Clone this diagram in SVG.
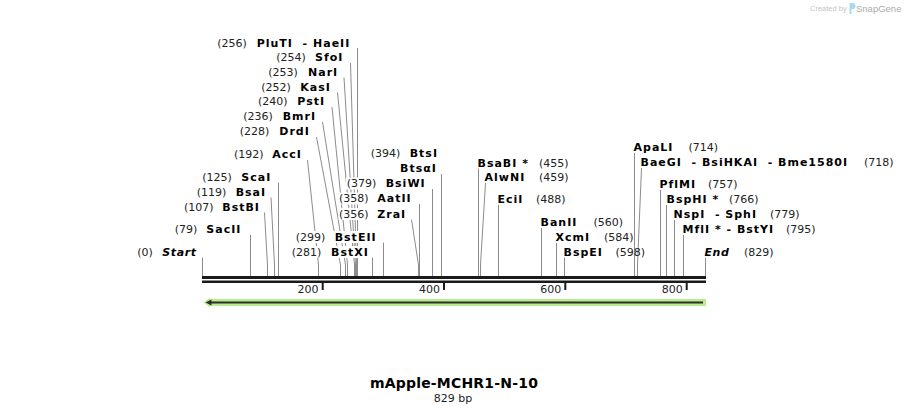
<svg xmlns="http://www.w3.org/2000/svg" width="908" height="415" viewBox="0 0 908 415">
<style>
.n{font-family:"DejaVu Sans",Verdana,sans-serif;font-size:11px;fill:#222}
.b{font-family:"DejaVu Sans",Verdana,sans-serif;font-size:11px;font-weight:bold;letter-spacing:1px;fill:#000}
.bi{font-family:"DejaVu Sans",Verdana,sans-serif;font-size:11px;font-weight:bold;font-style:italic;letter-spacing:0.6px;fill:#000}
.ln{fill:none;stroke:#8c8c8c;stroke-width:1}
.bg{fill:#fff}
.tk{fill:#1a1a1a}
</style>
<rect width="908" height="415" fill="#fff"/>

<g id="watermark">
<text x="810" y="11" font-family="Liberation Sans,Arial,sans-serif" font-size="7.5" fill="#c4c4c4">Created by</text>
<path d="M849.5,3 h3 a3,3 0 0 1 0,6 h-1 v5 h-2 z" fill="#a9d8f2"/>
<text x="856" y="11.5" font-family="Liberation Sans,Arial,sans-serif" font-size="9.5" fill="#ababab">SnapGene</text>
</g>

<g id="connectors">
<path class="ln" d="M357.5,276 V48"/>
<path class="ln" d="M356.5,276 V265 L350.5,63"/>
<path class="ln" d="M355.5,276 V265 L344,77.5"/>
<path class="ln" d="M354.5,276 V265 L337.5,92.5"/>
<path class="ln" d="M347.5,276 V265 L332,107"/>
<path class="ln" d="M345.5,276 V265 L322.5,122"/>
<path class="ln" d="M340.5,276 V265 L316.5,137"/>
<path class="ln" d="M318.5,276 V265 L307.5,160"/>
<path class="ln" d="M278.5,276 V182.5"/>
<path class="ln" d="M274.5,276 V265 L271,197.5"/>
<path class="ln" d="M267.5,276 V265 L264.5,212.5"/>
<path class="ln" d="M250.5,276 V235"/>
<path class="ln" d="M202.5,276 V257.5"/>
<path class="ln" d="M383.5,276 V242.5"/>
<path class="ln" d="M372.5,276 V257.5"/>
<path class="ln" d="M441.5,276 V174"/>
<path class="ln" d="M432.5,276 V189"/>
<path class="ln" d="M419.5,276 V204"/>
<path class="ln" d="M418.5,276 V265 L411.5,219.5"/>
<path class="ln" d="M478.5,276 V168.5"/>
<path class="ln" d="M480.5,276 V265 L485.5,183"/>
<path class="ln" d="M498.5,276 V205"/>
<path class="ln" d="M541.5,276 V228"/>
<path class="ln" d="M556.5,276 V243"/>
<path class="ln" d="M564.5,276 V257.5"/>
<path class="ln" d="M634.5,276 V153"/>
<path class="ln" d="M637.5,276 V265 L641.5,168"/>
<path class="ln" d="M660.5,276 V190"/>
<path class="ln" d="M666.5,276 V205"/>
<path class="ln" d="M674.5,276 V220"/>
<path class="ln" d="M683.5,276 V235"/>
<path class="ln" d="M705.5,276 V258"/>
</g>

<g id="ruler">
<rect class="tk" x="202" y="276" width="504" height="3"/>
<rect class="tk" x="202" y="280.5" width="504" height="2.5"/>
<rect class="tk" x="321.7" y="283" width="2" height="7"/>
<rect class="tk" x="443" y="283" width="2" height="7"/>
<rect class="tk" x="564.3" y="283" width="2" height="7"/>
<rect class="tk" x="685.7" y="283" width="2" height="7"/>
<text class="n" x="318.5" y="293" text-anchor="end">200</text>
<text class="n" x="440" y="293" text-anchor="end">400</text>
<text class="n" x="561.3" y="293" text-anchor="end">600</text>
<text class="n" x="682.7" y="293" text-anchor="end">800</text>
</g>

<g id="feature">
<path d="M203.5,302.5 L210,297.8 V299 H706 V306 H210 V307.2 Z" fill="#b9ec8c"/>
<path d="M209,302.5 H703" stroke="#2e2e2e" stroke-width="2"/>
<path d="M205.5,302.5 L211.5,299.5 V305.5 Z" fill="#2e2e2e"/>
</g>

<g id="site-PluTI-HaeII"><text class="n" x="217.3" y="46.5">(256)</text><text class="b" x="256.7" y="46.5" xml:space="preserve">PluTI  - HaeII</text></g>
<g id="site-SfoI"><text class="n" x="276.3" y="61">(254)</text><text class="b" x="315" y="61">SfoI</text></g>
<g id="site-NarI"><text class="n" x="268.3" y="75.5">(253)</text><text class="b" x="308" y="75.5">NarI</text></g>
<g id="site-KasI"><text class="n" x="261.3" y="90.5">(252)</text><text class="b" x="300.3" y="90.5">KasI</text></g>
<g id="site-PstI"><text class="n" x="258" y="105">(240)</text><text class="b" x="297.3" y="105">PstI</text></g>
<g id="site-BmrI"><text class="n" x="243.3" y="120">(236)</text><text class="b" x="282.7" y="120">BmrI</text></g>
<g id="site-DrdI"><text class="n" x="239.7" y="135">(228)</text><text class="b" x="279.3" y="135">DrdI</text></g>
<g id="site-AccI"><text class="n" x="234" y="158">(192)</text><text class="b" x="272.3" y="158">AccI</text></g>
<g id="site-ScaI"><text class="n" x="202.3" y="180.5">(125)</text><text class="b" x="241.3" y="180.5">ScaI</text></g>
<g id="site-BsaI"><text class="n" x="196.7" y="195.5">(119)</text><text class="b" x="235.7" y="195.5">BsaI</text></g>
<g id="site-BstBI"><text class="n" x="184" y="210.5">(107)</text><text class="b" x="222.3" y="210.5">BstBI</text></g>
<g id="site-SacII"><text class="n" x="174.7" y="233">(79)</text><text class="b" x="206.3" y="233">SacII</text></g>
<g id="site-Start"><text class="n" x="137.3" y="255.5">(0)</text><text class="bi" x="162.3" y="255.5">Start</text></g>
<g id="site-BstEII"><rect class="bg" x="295" y="231" width="84" height="12"/><text class="n" x="295.7" y="240.5">(299)</text><text class="b" x="334.7" y="240.5">BstEII</text></g>
<g id="site-BstXI"><rect class="bg" x="291" y="246" width="79" height="12"/><text class="n" x="291.7" y="255.5">(281)</text><text class="b" x="331" y="255.5">BstXI</text></g>
<g id="site-BtsI"><text class="n" x="370.7" y="157">(394)</text><text class="b" x="409.7" y="157">BtsI</text></g>
<g id="site-BtsaI"><text class="b" x="400" y="172">BtsαI</text></g>
<g id="site-BsiWI"><rect class="bg" x="346" y="177.5" width="81" height="12"/><text class="n" x="346.7" y="187">(379)</text><text class="b" x="385.7" y="187">BsiWI</text></g>
<g id="site-AatII"><rect class="bg" x="338.5" y="192.5" width="77" height="12"/><text class="n" x="339" y="202">(358)</text><text class="b" x="377.3" y="202">AatII</text></g>
<g id="site-ZraI"><rect class="bg" x="338.5" y="208" width="70" height="12"/><text class="n" x="339" y="217.5">(356)</text><text class="b" x="377.3" y="217.5">ZraI</text></g>

<g id="site-BsaBI"><text class="b" x="477.5" y="166.5">BsaBI *</text><text class="n" x="539" y="166.5">(455)</text></g>
<g id="site-AlwNI"><text class="b" x="484.5" y="181">AlwNI</text><text class="n" x="539" y="181">(459)</text></g>
<g id="site-EciI"><text class="b" x="497.5" y="203">EciI</text><text class="n" x="536" y="203">(488)</text></g>
<g id="site-BanII"><text class="b" x="540.5" y="226">BanII</text><text class="n" x="593.5" y="226">(560)</text></g>
<g id="site-XcmI"><text class="b" x="555.5" y="241">XcmI</text><text class="n" x="604" y="241">(584)</text></g>
<g id="site-BspEI"><text class="b" x="563.5" y="255.5">BspEI</text><text class="n" x="615.5" y="255.5">(598)</text></g>
<g id="site-ApaLI"><text class="b" x="633.5" y="151">ApaLI</text><text class="n" x="688.5" y="151">(714)</text></g>
<g id="site-BaeGI"><text class="b" x="640.5" y="165.5" xml:space="preserve">BaeGI  - BsiHKAI  - Bme1580I</text><text class="n" x="864" y="165.5">(718)</text></g>
<g id="site-PflMI"><text class="b" x="659.5" y="188">PflMI</text><text class="n" x="708" y="188">(757)</text></g>
<g id="site-BspHI"><text class="b" x="666.5" y="203">BspHI *</text><text class="n" x="729" y="203">(766)</text></g>
<g id="site-NspI-SphI"><text class="b" x="673.5" y="218" xml:space="preserve">NspI  - SphI</text><text class="n" x="770" y="218">(779)</text></g>
<g id="site-MflI-BstYI"><text class="b" x="682.5" y="233">MflI * - BstYI</text><text class="n" x="786" y="233">(795)</text></g>
<g id="site-End"><text class="bi" x="704.5" y="255.5">End</text><text class="n" x="744" y="255.5">(829)</text></g>

<g id="title">
<text x="454" y="388" text-anchor="middle" font-family="DejaVu Sans,Verdana,sans-serif" font-size="14" font-weight="bold" letter-spacing="0.2" fill="#000">mApple-MCHR1-N-10</text>
<text class="n" x="453" y="402" text-anchor="middle">829 bp</text>
</g>
</svg>
